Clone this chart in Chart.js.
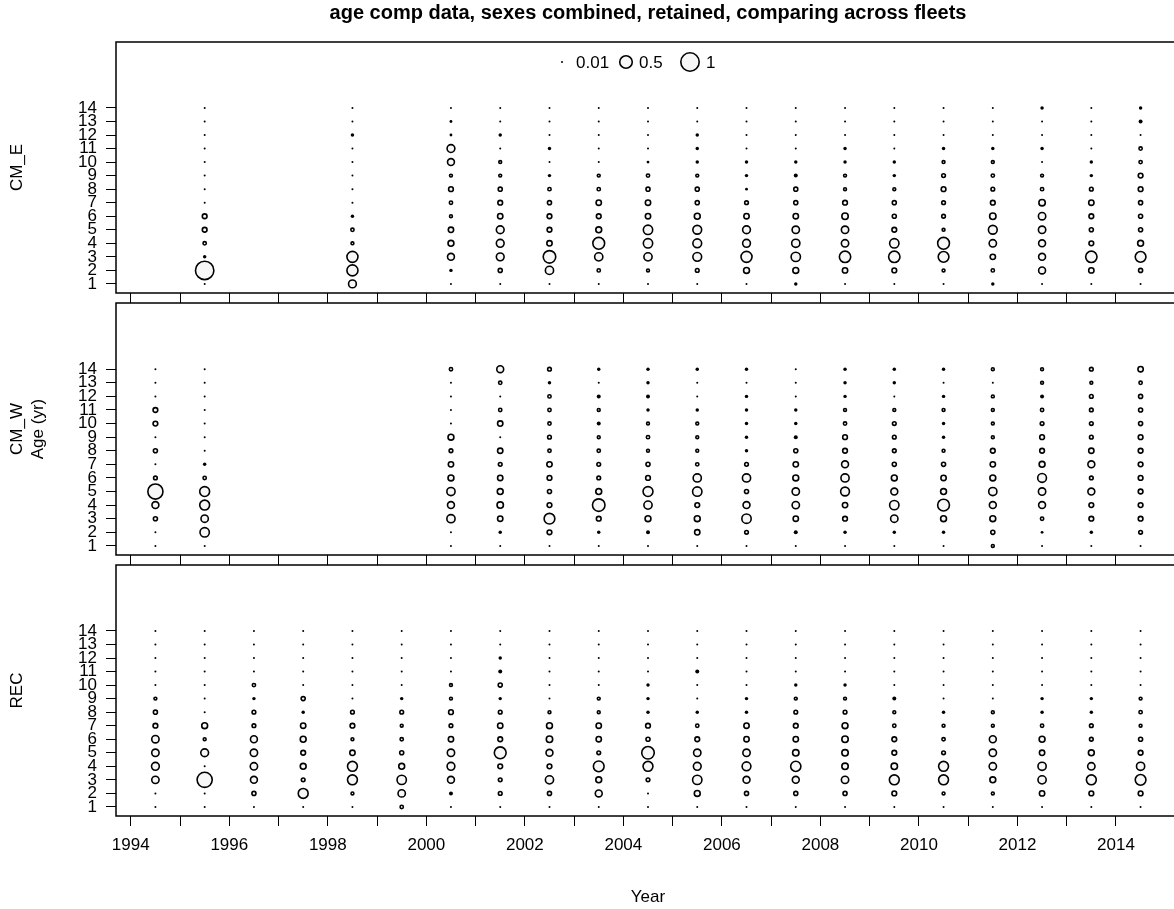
<!DOCTYPE html>
<html>
<head>
<meta charset="utf-8">
<script src="https://cdn.jsdelivr.net/npm/chart.js@4.4.0/dist/chart.umd.min.js"></script>
<style>
  html, body { margin: 0; padding: 0; background: #fff; overflow: hidden; }
  #wrap { position: relative; width: 1174px; height: 909px; overflow: hidden; background: #fff; }
  #wrap canvas { position: absolute; left: 0; }
</style>
</head>
<body>
<div id="wrap">
  <canvas id="cmE"></canvas>
  <canvas id="cmW"></canvas>
  <canvas id="rec"></canvas>
</div>
<script>
// ages 1..14, one row per year, proportions listed from age 1 up to age 14
const AGES = [1, 2, 3, 4, 5, 6, 7, 8, 9, 10, 11, 12, 13, 14];
const YEAR_TICKS = [1994, 1995, 1996, 1997, 1998, 1999, 2000, 2001, 2002, 2003, 2004,
  2005, 2006, 2007, 2008, 2009, 2010, 2011, 2012, 2013, 2014];
const KEY_VALUES = [0.01, 0.5, 1];

const cmE_years = [1995.5, 1998.5, 2000.5, 2001.5, 2002.5, 2003.5, 2004.5, 2005.5, 2006.5,
  2007.5, 2008.5, 2009.5, 2010.5, 2011.5, 2012.5, 2013.5, 2014.5];
const cmE_comp = [
  [.01, 1.0, .03, .06, .1, .1, .01, .01, .01, .01, .01, .01, .01, .01],
  [.22, .4, .4, .05, .06, .03, .01, .01, .01, .01, .01, .03, .01, .01],
  [.01, .03, .18, .14, .12, .05, .06, .1, .05, .18, .22, .02, .02, .01],
  [.01, .08, .22, .22, .22, .12, .1, .08, .05, .05, .01, .03, .01, .01],
  [.01, .24, .5, .12, .1, .1, .08, .06, .03, .01, .03, .01, .01, .01],
  [.01, .06, .24, .45, .14, .1, .12, .06, .05, .01, .01, .01, .01, .01],
  [.01, .05, .24, .3, .3, .12, .12, .08, .06, .02, .01, .01, .01, .01],
  [.01, .07, .27, .27, .27, .14, .08, .08, .05, .03, .03, .03, .01, .01],
  [.01, .14, .4, .22, .22, .12, .07, .02, .03, .03, .01, .01, .01, .01],
  [.03, .14, .3, .24, .2, .12, .08, .08, .04, .03, .01, .01, .01, .01],
  [.01, .12, .42, .2, .2, .16, .1, .05, .05, .03, .03, .01, .01, .01],
  [.01, .1, .42, .3, .1, .08, .08, .05, .03, .03, .01, .01, .01, .01],
  [.01, .05, .38, .45, .05, .07, .07, .1, .07, .05, .03, .01, .01, .01],
  [.03, .06, .12, .2, .27, .16, .1, .07, .06, .05, .03, .01, .01, .01],
  [.01, .18, .18, .18, .2, .2, .16, .06, .05, .01, .03, .01, .01, .03],
  [.01, .12, .42, .1, .08, .1, .12, .07, .03, .03, .01, .01, .01, .01],
  [.01, .08, .38, .14, .08, .08, .08, .1, .1, .06, .06, .01, .04, .03]
];

const cmW_years = [1994.5, 1995.5, 2000.5, 2001.5, 2002.5, 2003.5, 2004.5, 2005.5, 2006.5,
  2007.5, 2008.5, 2009.5, 2010.5, 2011.5, 2012.5, 2013.5, 2014.5];
const cmW_comp = [
  [.01, .01, .08, .18, .7, .07, .01, .08, .01, .1, .1, .01, .01, .01],
  [.01, .3, .2, .33, .33, .06, .03, .01, .01, .01, .01, .01, .01, .01],
  [.01, .01, .24, .18, .24, .14, .12, .07, .14, .01, .01, .01, .01, .06],
  [.01, .03, .12, .16, .14, .12, .07, .12, .01, .12, .06, .01, .06, .18],
  [.01, .1, .38, .1, .08, .1, .12, .06, .07, .06, .06, .06, .03, .07],
  [.01, .03, .1, .5, .14, .07, .07, .06, .05, .04, .05, .04, .01, .03],
  [.01, .04, .14, .24, .33, .1, .08, .05, .06, .05, .03, .04, .03, .03],
  [.01, .12, .14, .1, .3, .24, .06, .05, .05, .05, .03, .01, .01, .03],
  [.01, .07, .3, .18, .08, .24, .07, .03, .03, .03, .03, .03, .01, .03],
  [.01, .04, .12, .2, .2, .14, .12, .08, .04, .03, .03, .01, .01, .01],
  [.01, .03, .1, .12, .27, .24, .18, .1, .1, .06, .05, .03, .03, .03],
  [.01, .03, .2, .3, .18, .14, .08, .07, .07, .07, .05, .01, .03, .03],
  [.01, .03, .14, .45, .14, .12, .08, .05, .03, .03, .05, .03, .01, .03],
  [.05, .08, .14, .18, .24, .14, .12, .1, .05, .05, .05, .05, .01, .05],
  [.01, .02, .06, .18, .2, .27, .14, .1, .1, .07, .06, .04, .05, .05],
  [.01, .03, .1, .1, .18, .07, .18, .12, .07, .07, .07, .07, .05, .07],
  [.01, .07, .1, .1, .1, .1, .1, .1, .1, .08, .08, .08, .06, .12]
];

const rec_years = [1994.5, 1995.5, 1996.5, 1997.5, 1998.5, 1999.5, 2000.5, 2001.5, 2002.5,
  2003.5, 2004.5, 2005.5, 2006.5, 2007.5, 2008.5, 2009.5, 2010.5, 2011.5, 2012.5, 2013.5, 2014.5];
const rec_comp = [
  [.01, .01, .2, .22, .2, .2, .1, .08, .05, .01, .01, .01, .01, .01],
  [.01, .01, .7, .01, .22, .05, .14, .01, .01, .01, .01, .01, .01, .01],
  [.01, .08, .18, .2, .2, .18, .07, .07, .03, .06, .01, .01, .01, .01],
  [.01, .33, .07, .14, .1, .14, .12, .03, .08, .01, .01, .01, .01, .01],
  [.01, .05, .33, .33, .12, .05, .1, .07, .01, .01, .01, .01, .01, .01],
  [.06, .2, .3, .14, .08, .06, .05, .07, .03, .01, .01, .01, .01, .01],
  [.01, .04, .18, .22, .2, .12, .07, .1, .05, .05, .01, .01, .01, .01],
  [.01, .07, .07, .1, .45, .1, .12, .07, .03, .08, .04, .03, .01, .01],
  [.01, .08, .24, .1, .18, .16, .14, .05, .01, .01, .01, .01, .01, .01],
  [.01, .18, .14, .38, .07, .12, .12, .05, .05, .01, .01, .01, .01, .01],
  [.01, .01, .07, .33, .5, .08, .1, .03, .03, .03, .01, .01, .01, .01],
  [.01, .14, .3, .22, .2, .1, .06, .03, .01, .01, .04, .01, .01, .01],
  [.01, .08, .18, .27, .2, .12, .12, .03, .03, .01, .01, .01, .01, .01],
  [.01, .08, .18, .35, .16, .12, .1, .07, .05, .03, .01, .01, .01, .01],
  [.01, .08, .2, .16, .16, .16, .14, .07, .05, .03, .01, .01, .01, .01],
  [.01, .1, .33, .16, .1, .1, .06, .05, .04, .01, .01, .01, .01, .01],
  [.01, .05, .33, .33, .07, .06, .05, .03, .01, .01, .01, .01, .01, .01],
  [.01, .05, .14, .2, .2, .18, .05, .05, .01, .01, .01, .01, .01, .01],
  [.01, .12, .24, .24, .12, .14, .06, .03, .03, .01, .01, .01, .01, .01],
  [.01, .1, .33, .2, .14, .07, .07, .03, .03, .01, .01, .01, .01, .01],
  [.01, .1, .38, .24, .1, .08, .05, .06, .05, .01, .01, .01, .01, .01]
];

const FONT = "'Liberation Sans', Arial, Helvetica, sans-serif";
const LINE = 1.6;

// bubble area proportional to the proportion at age;
// the smallest ones come out as solid dots
function outerRadius(p) { return 10 * Math.sqrt(p); }
function isDot(p) { return outerRadius(p) < 2.1; }
function bubbleRadius(p) {
  return isDot(p) ? outerRadius(p) : outerRadius(p) - LINE / 2;
}

function toPoints(years, comp) {
  const pts = [];
  years.forEach((yr, i) => {
    comp[i].forEach((p, a) => pts.push({ x: yr, y: AGES[a], p: p }));
  });
  return pts;
}

// no extra room for tick labels at the ends of each axis
function noEndPadding(s) {
  s.paddingTop = 0;
  s.paddingBottom = 0;
  s.paddingLeft = 0;
  s.paddingRight = 0;
}

// box round each panel
const frame = {
  id: 'frame',
  afterDraw(chart) {
    const { ctx, chartArea: a } = chart;
    ctx.save();
    ctx.strokeStyle = '#000';
    ctx.lineWidth = 1.5;
    ctx.strokeRect(a.left, a.top, a.right - a.left, a.bottom - a.top);
    ctx.restore();
  }
};

// size key at the top of the first panel
const sizeKey = {
  id: 'sizeKey',
  afterDatasetsDraw(chart) {
    const { ctx, chartArea: a } = chart;
    const cx = (a.left + a.right) / 2;
    const y = a.top + 20;
    const items = [
      { sym: cx - 86, txt: cx - 72 },
      { sym: cx - 22, txt: cx - 9 },
      { sym: cx + 42, txt: cx + 58 }
    ];
    ctx.save();
    ctx.font = '17px ' + FONT;
    ctx.textBaseline = 'middle';
    KEY_VALUES.forEach((v, i) => {
      ctx.beginPath();
      ctx.arc(items[i].sym, y, bubbleRadius(v), 0, Math.PI * 2);
      if (isDot(v)) {
        ctx.fillStyle = '#000';
        ctx.fill();
      } else {
        ctx.fillStyle = '#f7f7f7';
        ctx.fill();
        ctx.lineWidth = LINE;
        ctx.strokeStyle = '#000';
        ctx.stroke();
      }
      ctx.fillStyle = '#000';
      ctx.fillText(String(v), items[i].txt, y + 1);
    });
    ctx.restore();
  }
};

function makePanel(id, top, height, fleet, years, comp, o) {
  const canvas = document.getElementById(id);
  canvas.width = 1182;
  canvas.height = height;
  canvas.style.top = top + 'px';

  return new Chart(canvas, {
    type: 'bubble',
    data: {
      datasets: [{
        data: toPoints(years, comp),
        backgroundColor: c => (isDot(c.raw.p) ? '#000' : '#f7f7f7'),
        borderColor: '#000',
        borderWidth: c => (isDot(c.raw.p) ? 0 : LINE),
        radius: c => bubbleRadius(c.raw.p)
      }]
    },
    options: {
      responsive: false,
      animation: false,
      events: [],
      layout: { autoPadding: false, padding: { top: o.padTop, right: 2, left: 0, bottom: 0 } },
      plugins: {
        legend: { display: false },
        tooltip: { enabled: false },
        title: o.title ? {
          display: true,
          text: o.title,
          fullSize: false,
          color: '#000',
          font: { family: FONT, size: 20, weight: 'bold' },
          padding: { top: 1.5, bottom: 16.5 }
        } : { display: false }
      },
      scales: {
        x: {
          type: 'linear',
          min: 1993.7,
          max: 2015.3,
          afterBuildTicks: s => { s.ticks = YEAR_TICKS.map(v => ({ value: v })); },
          afterFit: s => { s.height = o.xHeight; noEndPadding(s); },
          border: { display: false },
          grid: { drawOnChartArea: false, drawTicks: true, tickLength: 10, color: '#000', lineWidth: 1 },
          ticks: {
            display: o.xLabels,
            autoSkip: false,
            maxRotation: 0,
            padding: 9,
            color: '#000',
            font: { family: FONT, size: 17 },
            callback: v => (v % 2 === 0 ? String(v) : '')
          },
          title: {
            display: o.xLabels,
            text: 'Year',
            color: '#000',
            font: { family: FONT, size: 17 },
            padding: { top: 0, bottom: 1.8 }
          }
        },
        y: {
          type: 'linear',
          position: 'left',
          weight: 0,
          min: 0.33,
          max: 18.87,
          afterBuildTicks: s => { s.ticks = AGES.map(v => ({ value: v })); },
          afterFit: s => { s.width = 88; noEndPadding(s); },
          border: { display: false },
          grid: { drawOnChartArea: false, drawTicks: true, tickLength: 10, color: '#000', lineWidth: 1 },
          ticks: {
            autoSkip: false,
            padding: 9,
            color: '#000',
            font: { family: FONT, size: 17 },
            callback: v => String(v)
          },
          title: {
            display: !!o.ageTitle,
            text: 'Age (yr)',
            color: '#000',
            font: { family: FONT, size: 17 },
            padding: { top: 0, bottom: 0 }
          }
        },
        yFleet: {
          type: 'linear',
          position: 'left',
          weight: 1,
          afterFit: s => { s.width = 28; noEndPadding(s); },
          border: { display: false },
          grid: { display: false },
          ticks: { display: false },
          title: {
            display: true,
            text: fleet,
            color: '#000',
            font: { family: FONT, size: 17 },
            padding: { top: 6.8, bottom: 0 }
          }
        }
      }
    },
    plugins: o.withKey ? [frame, sizeKey] : [frame]
  });
}

makePanel('cmE', 0, 303, 'CM_E', cmE_years, cmE_comp,
  { padTop: 0, xHeight: 10, xLabels: false,
    title: 'age comp data, sexes combined, retained, comparing across fleets', withKey: true });
makePanel('cmW', 301, 264, 'CM_W', cmW_years, cmW_comp,
  { padTop: 2, xHeight: 10, xLabels: false, ageTitle: true });
makePanel('rec', 563, 346, 'REC', rec_years, rec_comp,
  { padTop: 2, xHeight: 93, xLabels: true });
</script>
</body>
</html>
